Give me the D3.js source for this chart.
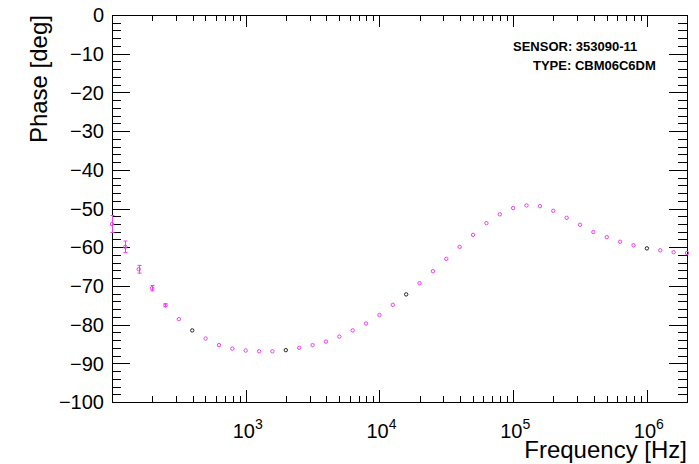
<!DOCTYPE html>
<html>
<head>
<meta charset="utf-8">
<script src="https://cdn.jsdelivr.net/npm/d3@7"></script>
<style>
  body { margin: 0; background: #fff; }
  svg { display: block; }
  text { font-family: "Liberation Sans", Arial, Helvetica, sans-serif; }
</style>
</head>
<body>
<svg id="chart" width="699" height="464"></svg>
<script>
// phase measurement, one point per 1/10 decade
var freq = [100, 125.9, 158.5, 199.5, 251.2, 316.2, 398.1, 501.2, 631.0, 794.3,
            1000, 1259, 1585, 1995, 2512, 3162, 3981, 5012, 6310, 7943,
            10000, 12589, 15849, 19953, 25119, 31623, 39811, 50119, 63096, 79433,
            100000, 125893, 158489, 199526, 251189, 316228, 398107, 501187, 630957, 794328,
            1000000, 1258925, 1584893, 1995262];
var phase = [-54.0, -59.9, -65.7, -70.6, -75.0, -78.6, -81.5, -83.6, -85.3, -86.2,
             -86.7, -86.9, -86.9, -86.6, -86.0, -85.3, -84.4, -83.1, -81.5, -79.7,
             -77.5, -74.9, -72.2, -69.3, -66.2, -63.0, -59.9, -56.8, -53.8, -51.5,
             -49.9, -49.2, -49.4, -50.6, -52.4, -54.2, -56.1, -57.4, -58.6, -59.5,
             -60.3, -60.8, -61.3, -61.5];
var phaseErr = [2.2, 1.5, 1.0, 0.7, 0.4, 0, 0, 0, 0, 0,
                0, 0, 0, 0, 0, 0, 0, 0, 0, 0,
                0, 0, 0, 0, 0, 0, 0, 0, 0, 0,
                0, 0, 0, 0, 0, 0, 0, 0, 0, 0,
                0, 0, 0, 0];
var yTicks = [0, -10, -20, -30, -40, -50, -60, -70, -80, -90, -100];
var xDecades = [1e3, 1e4, 1e5, 1e6];
var xExp = ["3", "4", "5", "6"];
var infoLines = ["SENSOR: 353090-11", "TYPE: CBM06C6DM"];

var padL = 112, padR = 687, padT = 15, padB = 402;
var svg = d3.select("#chart");

var x = d3.scaleLog().domain([100, 1995262]).range([padL, padR]);
var y = d3.scaleLinear().domain([-100, 0]).range([padB, padT]);

// points that show up dark in the original
var darkPts = [6, 13, 22, 40];

// frame
svg.append("rect")
    .attr("x", padL + 0.5).attr("y", padT + 0.5)
    .attr("width", padR - padL).attr("height", padB - padT)
    .attr("fill", "none").attr("stroke", "#000").attr("stroke-width", 1);

// y ticks (left and right), 510 divisions
var yMinor = d3.range(-100, 0.1, 2);
var yMajLen = 18, yMinLen = 9;
var tk = svg.append("g").attr("stroke", "#000").attr("stroke-width", 1);
yMinor.forEach(function(v) {
  var major = (v % 10 === 0);
  var len = major ? yMajLen : yMinLen;
  var yy = Math.round(y(v)) + 0.5;
  tk.append("line").attr("x1", padL).attr("x2", padL + len).attr("y1", yy).attr("y2", yy);
  tk.append("line").attr("x1", padR - len).attr("x2", padR).attr("y1", yy).attr("y2", yy);
});

// x ticks (bottom and top), log
var xMajLen = 12, xMinLen = 6;
var xTickVals = [];
[100, 1000, 10000, 100000, 1000000].forEach(function(d) {
  for (var k = 1; k <= 9; k++) {
    var v = d * k;
    if (v >= 100 && v <= 1995262 * 1.001) xTickVals.push({ v: v, major: k === 1 });
  }
});
xTickVals.forEach(function(t) {
  var len = t.major ? xMajLen : xMinLen;
  var xx = Math.round(x(t.v)) + 0.5;
  tk.append("line").attr("x1", xx).attr("x2", xx).attr("y1", padB).attr("y2", padB - len);
  tk.append("line").attr("x1", xx).attr("x2", xx).attr("y1", padT).attr("y2", padT + len);
});

// y labels
svg.append("g").selectAll("text").data(yTicks).join("text")
    .attr("x", 104)
    .attr("y", function(d) { return y(d); })
    .attr("dy", "0.36em")
    .attr("text-anchor", "end")
    .attr("font-size", 20)
    .text(function(d) { return d === 0 ? "0" : "\u2212" + Math.abs(d); });

// x labels 10^n
var xl = svg.append("g").selectAll("text").data(xDecades).join("text")
    .attr("x", function(d) { return x(d) + 2; })
    .attr("y", 438)
    .attr("text-anchor", "middle")
    .attr("font-size", 20);
xl.append("tspan").text("10");
xl.append("tspan").attr("font-size", 14).attr("dy", -9)
    .text(function(d, i) { return xExp[i]; });

// axis titles
svg.append("text")
    .attr("transform", "translate(47," + padT + ") rotate(-90)")
    .attr("text-anchor", "end")
    .attr("font-size", 24)
    .text("Phase [deg]");
svg.append("text")
    .attr("x", padR).attr("y", 458)
    .attr("text-anchor", "end")
    .attr("font-size", 24)
    .text("Frequency [Hz]");

// sensor info
svg.append("text").attr("x", 513).attr("y", 51)
    .attr("font-size", 13).attr("font-weight", "bold").text(infoLines[0]);
svg.append("text").attr("x", 533).attr("y", 70)
    .attr("font-size", 13).attr("font-weight", "bold").text(infoLines[1]);

// data
var pts = freq.map(function(f, i) { return { f: f, p: phase[i], e: phaseErr[i], i: i }; });
var mag = "#f23cf2";

var eb = svg.append("g").attr("stroke", mag).attr("stroke-width", 1);
pts.filter(function(d) { return d.e > 0; }).forEach(function(d) {
  var xx = Math.round(x(d.f)) + 0.5;
  var y1 = y(d.p - d.e), y2 = y(d.p + d.e);
  eb.append("line").attr("x1", xx).attr("x2", xx).attr("y1", y1).attr("y2", y2);
  eb.append("line").attr("x1", xx - 2).attr("x2", xx + 2).attr("y1", y1).attr("y2", y1);
  eb.append("line").attr("x1", xx - 2).attr("x2", xx + 2).attr("y1", y2).attr("y2", y2);
});

svg.append("g").selectAll("circle").data(pts).join("circle")
    .attr("cx", function(d) { return x(d.f); })
    .attr("cy", function(d) { return y(d.p); })
    .attr("r", 1.7)
    .attr("fill", "none")
    .attr("stroke", function(d) { return darkPts.indexOf(d.i) >= 0 ? "#222" : mag; })
    .attr("stroke-width", 1);
</script>
</body>
</html>
